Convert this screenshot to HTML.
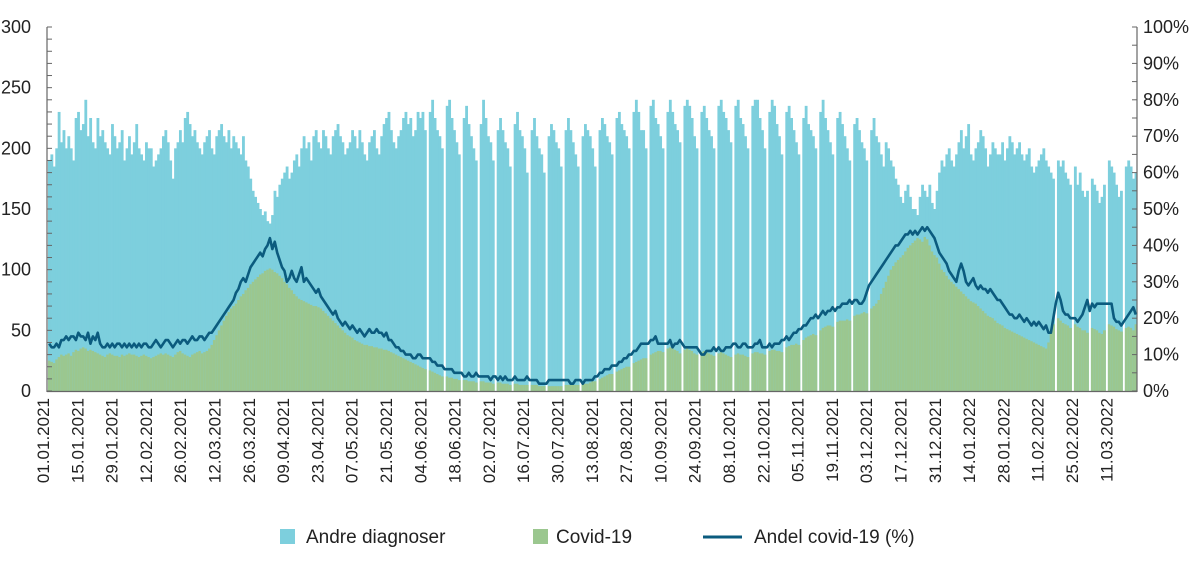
<!DOCTYPE html>
<html><head><meta charset="utf-8">
<style>
html,body{margin:0;padding:0;background:#fff;}
svg{display:block;font-family:"Liberation Sans",sans-serif;}
</style></head>
<body>
<svg id="chart" width="1200" height="565" viewBox="0 0 1200 565" xmlns="http://www.w3.org/2000/svg">
<g id="bars"></g>
<g id="axes"></g>
<g id="line"></g>
<g id="legend">
  <rect x="280" y="529" width="15" height="15" fill="#7dcfdd"/>
  <text x="306" y="543" font-size="19" fill="#222">Andre diagnoser</text>
  <rect x="533" y="529" width="15" height="15" fill="#9bc78f"/>
  <text x="556" y="543" font-size="19" fill="#222">Covid-19</text>
  <line x1="703" y1="537" x2="742" y2="537" stroke="#0b5b7e" stroke-width="3"/>
  <text x="754" y="543" font-size="19" fill="#222">Andel covid-19 (%)</text>
</g>
</svg>
<script>
const startDate = "01.01.2021";
const totals = [
190,195,185,200,230,205,215, 200,210,200,190,225,230,215, 220,240,210,225,205,200,225, 210,215,205,200,195,220,210,
200,205,215,190,200,210,195, 205,220,200,195,190,205,200, 200,185,190,195,200,210,215, 205,190,175,200,205,215,205,
225,230,220,210,215,205,200, 195,205,210,215,200,195,210, 215,220,210,205,215,200,210, 205,200,195,210,190,185,175,
165,160,155,150,145,148,140, 138,145,165,160,170,175,180, 185,175,180,190,195,185,200, 210,200,205,190,210,215,205,
200,215,210,200,195,210,215, 220,210,205,195,200,205,215, 210,200,215,205,195,190,205, 210,215,200,195,210,220,225,
230,215,205,200,210,215,225, 230,220,225,210,215,230,225, 230,215,0,230,240,225,215, 210,200,0,235,240,225,215,
205,195,0,225,235,220,210, 200,190,0,220,240,225,210, 205,190,0,215,225,215,205, 200,185,0,220,230,215,210,
200,180,0,215,225,210,200, 195,180,0,210,220,215,205, 200,185,0,215,225,215,205, 195,185,0,210,220,215,210,
200,185,0,215,225,220,210, 205,195,0,225,230,220,215, 210,200,0,230,240,230,215, 215,200,0,235,240,225,220,
210,200,0,230,240,230,220, 215,205,0,235,240,235,225, 210,200,0,230,235,225,215, 210,200,0,235,240,230,225,
215,205,0,235,240,225,220, 210,200,0,235,240,240,225, 215,200,0,230,240,235,220, 210,195,0,230,235,225,215,
205,195,0,225,235,220,215, 210,200,0,230,240,225,215, 205,195,0,225,230,220,210, 200,190,0,220,225,215,205,
200,190,0,215,225,210,205, 195,185,205,200,190,185,175, 170,160,155,165,170,160,150, 150,145,160,170,165,160,170,
155,150,165,180,190,185,195, 200,190,185,195,205,215,200, 210,220,195,190,200,205,215, 210,200,185,195,205,200,195,
195,205,190,200,210,205,195, 200,205,195,190,195,200,185, 180,185,190,195,200,190,185, 180,175,0,190,185,190,180,
175,170,0,185,170,180,165, 160,165,0,175,170,165,155, 160,170,0,190,185,180,170, 160,165,0,185,190,185,175,
180];
const covid = [
25,24,23,26,28,30,29, 30,31,29,32,34,33,35, 36,35,33,34,33,32,31, 30,29,28,30,31,30,29,
29,28,30,29,30,31,30, 30,29,28,29,30,29,28, 27,28,29,30,31,30,31, 30,29,28,30,32,33,31,
30,29,28,30,31,32,33, 31,32,33,35,38,42,46, 50,54,58,62,65,68,70, 72,75,78,80,83,85,88,
90,92,94,96,97,99,100, 101,100,98,97,95,93,90, 88,85,83,80,78,76,75, 74,73,72,71,70,70,69,
68,66,64,62,60,58,56, 54,52,50,48,46,45,44, 42,41,40,39,38,38,37, 37,36,36,35,35,34,34,
33,32,31,30,29,28,27, 26,25,24,23,22,21,20, 19,18,0,17,16,15,14, 13,12,0,12,11,11,10,
10,9,0,9,9,8,8, 8,7,0,8,8,7,7, 7,6,0,7,7,6,6, 6,5,0,6,6,5,5,
5,5,0,5,5,5,4, 4,4,0,4,4,4,4, 4,4,0,5,5,5,5, 5,5,0,6,6,6,7,
8,8,0,10,11,12,13, 14,14,0,16,17,18,19, 20,20,0,23,24,25,26, 27,27,0,30,31,32,33,
33,32,0,35,36,35,34, 33,31,0,34,35,34,33, 31,30,0,32,33,32,31, 30,29,0,31,32,31,30,
29,28,0,30,31,30,30, 29,28,0,31,32,32,31, 31,30,0,33,34,34,33, 33,32,0,36,37,38,38,
39,38,0,42,44,45,46, 47,46,0,50,52,53,54, 54,53,0,57,58,58,58, 59,58,0,62,63,63,64,
65,64,0,68,70,72,75, 80,85,90,95,100,103,106, 108,110,112,115,118,120,122, 124,126,125,123,127,125,120,
115,112,110,105,100,98,95, 92,90,88,86,84,82,80, 78,76,74,73,72,70,68, 66,64,62,61,60,58,56,
55,54,52,51,50,49,48, 47,46,45,44,43,42,41, 40,39,38,37,36,35,40, 50,55,0,60,58,56,55,
54,52,0,55,53,52,50, 50,48,0,52,51,50,48, 47,50,0,55,54,53,51, 50,49,0,52,53,52,50,
55];
const sharePct = [
13,12,12,13,12,14,14, 15,14,15,15,14,16,15, 15,14,16,13,15,14,16, 13,12,12,13,12,13,12,
13,13,12,13,12,13,12, 13,12,13,12,13,13,12, 12,13,14,13,12,13,14, 14,13,12,13,14,13,14,
14,13,14,15,14,14,15, 15,14,15,16,16,17,18, 19,20,21,22,23,24,25, 27,28,30,31,30,32,34,
35,36,37,38,37,39,40, 42,39,41,38,36,34,33, 30,31,33,31,30,32,34, 30,31,30,29,28,27,28,
26,25,24,23,22,21,22, 20,19,18,19,18,17,18, 17,16,17,16,15,16,17, 16,16,17,16,16,15,16,
14,14,13,12,12,11,11, 10,10,10,9,9,10,10, 9,9,9,9,8,8,7, 7,7,6,6,6,6,5,
5,5,5,4,4,5,4, 4,5,4,4,4,4,4, 3,4,4,3,4,3,4, 3,3,3,4,3,3,3,
3,4,3,3,3,3,2, 2,2,2,3,3,3,3, 3,3,3,3,3,2,2, 3,3,3,2,3,3,3,
3,4,4,5,5,6,6, 6,7,7,7,8,8,9, 9,10,10,11,11,12,13, 13,13,13,14,14,15,13,
13,13,13,13,14,12,13, 13,14,13,12,12,12,12, 12,12,11,10,10,11,11, 11,12,11,12,11,11,12,
12,12,13,13,12,12,13, 13,12,12,12,13,13,14, 12,12,12,13,12,13,13, 13,14,14,15,14,15,16,
16,17,17,18,18,19,20, 20,21,20,21,22,21,22, 22,23,22,23,23,24,24, 24,25,24,25,25,24,24,
25,27,29,30,31,32,33, 34,35,36,37,38,39,40, 40,41,42,43,43,44,43, 44,43,44,45,44,45,44,
43,42,40,38,37,36,35, 33,32,31,30,33,35,33, 30,29,30,31,29,28,29, 28,28,27,28,27,26,25,
25,24,23,22,21,21,20, 20,21,20,19,20,19,18, 19,18,19,18,17,18,16, 16,20,24,27,25,22,21,
21,20,20,20,19,20,21, 23,25,22,24,23,24,24, 24,24,24,24,24,20,19, 19,18,19,20,21,22,23,
21];
const leftTicks = [0,50,100,150,200,250,300];
const rightTicks = [0,10,20,30,40,50,60,70,80,90,100];
const dateLabels = ["01.01.2021","15.01.2021","29.01.2021","12.02.2021","26.02.2021","12.03.2021","26.03.2021","09.04.2021","23.04.2021","07.05.2021","21.05.2021","04.06.2021","18.06.2021","02.07.2021","16.07.2021","30.07.2021","13.08.2021","27.08.2021","10.09.2021","24.09.2021","08.10.2021","22.10.2021","05.11.2021","19.11.2021","03.12.2021","17.12.2021","31.12.2021","14.01.2022","28.01.2022","11.02.2022","25.02.2022","11.03.2022"];
const labelEvery = 14;

const NS="http://www.w3.org/2000/svg";
const X0=48, X1=1137, Y0=391, YT=27;
const N=totals.length;
const step=(X1-X0)/N;
const labelStep=2.45;
function xs(i){return X0+i*step;}
function yl(v){return Y0-(v/300)*(Y0-YT);}
function yr(p){return Y0-(p/100)*(Y0-YT);}
function mk(tag,attrs,parent){const e=document.createElementNS(NS,tag);for(const k in attrs)e.setAttribute(k,attrs[k]);parent.appendChild(e);return e;}

const bars=document.getElementById('bars');
for(let i=0;i<N;i++){
  if(totals[i]>0){
    const r=mk('rect',{x:xs(i).toFixed(2),y:yl(totals[i]).toFixed(2),width:(step+0.4).toFixed(2),height:(Y0-yl(totals[i])).toFixed(2),fill:'#7dcfdd'},bars);
    
    
  }
  if(covid[i]>0){
    const g=mk('rect',{x:xs(i).toFixed(2),y:yl(covid[i]).toFixed(2),width:(step+0.4).toFixed(2),height:(Y0-yl(covid[i])).toFixed(2),fill:'#9bc78f'},bars);
    
    
  }
}
const axes=document.getElementById('axes');
const la=mk('line',{x1:47,y1:YT,x2:47,y2:Y0+1,stroke:'#666','stroke-width':1.2},axes);


const ra=mk('line',{x1:X1,y1:YT,x2:X1,y2:Y0+1,stroke:'#666','stroke-width':1.2},axes);


const ba=mk('line',{x1:47,y1:Y0+0.5,x2:X1,y2:Y0+0.5,stroke:'#666','stroke-width':1.2},axes);


for(let v=0;v<=300;v+=10){
  const t=mk('line',{x1:47,y1:yl(v),x2:52,y2:yl(v),stroke:'#666','stroke-width':1},axes);
  
  
}
for(let p=0;p<=100;p+=5){
  const t=mk('line',{x1:X1-5,y1:yr(p),x2:X1,y2:yr(p),stroke:'#666','stroke-width':1},axes);
  
  
}
leftTicks.forEach(v=>{
  const t=mk('text',{x:31,y:yl(v)+6,'text-anchor':'end','font-size':18,fill:'#222'},axes);
  t.textContent=v;
  
  
});
rightTicks.forEach(p=>{
  const t=mk('text',{x:1143,y:yr(p)+6,'font-size':18,fill:'#222'},axes);
  t.textContent=p+'%';
  
  
});
dateLabels.forEach((d,k)=>{
  const cx=X0+1+k*labelEvery*labelStep;
  const t=mk('text',{x:0,y:0,'text-anchor':'end','font-size':17,fill:'#222',transform:`translate(${cx.toFixed(1)},398) rotate(-90)`},axes);
  t.textContent=d;
  
  
});
const lg=document.getElementById('line');
let dstr='';
for(let i=0;i<N;i++){dstr+=(i?'L':'M')+(xs(i)+step/2).toFixed(2)+','+yr(sharePct[i]).toFixed(2);}
const path=mk('path',{d:dstr,fill:'none',stroke:'#0b5b7e','stroke-width':2.6,'stroke-linejoin':'round'},lg);


</script>
</body></html>
